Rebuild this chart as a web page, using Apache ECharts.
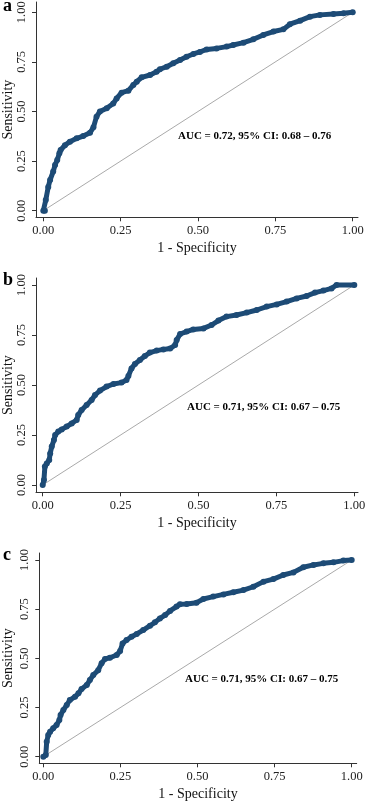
<!DOCTYPE html>
<html>
<head>
<meta charset="utf-8">
<script src="https://cdn.jsdelivr.net/npm/echarts@6/dist/echarts.min.js"></script>
<style>
html,body{margin:0;padding:0;background:#fff;}
#chart{width:365px;height:802px;}
</style>
</head>
<body>
<div id="chart"></div>
<script>
// Tick values shared by all panels
var tickValues = [0, 0.25, 0.5, 0.75, 1];
var panelLetters = ['a', 'b', 'c'];
var aucLabels = [
  'AUC = 0.72, 95% CI: 0.68 \u2013 0.76',
  'AUC = 0.71, 95% CI: 0.67 \u2013 0.75',
  'AUC = 0.71, 95% CI: 0.67 \u2013 0.75'
];

// Panel a ROC curve (1 - specificity, sensitivity)
var rocA_x = [0.000,0.005,0.008,0.016,0.022,0.032,0.038,0.045,0.052,0.056,0.070,0.086,0.108,0.129,0.151,0.162,0.172,0.183,0.205,0.226,0.237,0.253,0.275,0.291,0.302,0.318,0.345,0.366,0.377,0.399,0.420,0.442,0.463,0.485,0.506,0.528,0.560,0.593,0.614,0.647,0.679,0.711,0.744,0.776,0.797,0.830,0.862,0.894,0.938,0.970,1.000];
var rocA_y = [0.000,0.000,0.054,0.120,0.155,0.197,0.230,0.255,0.290,0.306,0.330,0.348,0.365,0.376,0.393,0.420,0.474,0.500,0.516,0.540,0.566,0.595,0.605,0.634,0.650,0.672,0.684,0.700,0.713,0.726,0.743,0.760,0.776,0.790,0.800,0.813,0.818,0.827,0.835,0.847,0.864,0.886,0.903,0.914,0.940,0.958,0.978,0.987,0.992,0.995,1.000];

// Panel b ROC curve
var rocB_x = [0.000,0.004,0.007,0.013,0.021,0.024,0.029,0.036,0.040,0.050,0.061,0.077,0.093,0.109,0.114,0.125,0.141,0.157,0.168,0.184,0.205,0.227,0.253,0.269,0.275,0.285,0.296,0.312,0.328,0.344,0.366,0.387,0.409,0.425,0.430,0.441,0.462,0.483,0.516,0.542,0.564,0.590,0.622,0.655,0.687,0.719,0.751,0.783,0.815,0.847,0.874,0.901,0.927,0.943,1.000];
var rocB_y = [0.000,0.025,0.092,0.108,0.125,0.158,0.192,0.225,0.250,0.267,0.278,0.292,0.308,0.325,0.350,0.375,0.400,0.425,0.450,0.472,0.492,0.505,0.512,0.525,0.545,0.583,0.605,0.625,0.645,0.662,0.672,0.678,0.682,0.700,0.725,0.755,0.767,0.778,0.783,0.800,0.822,0.842,0.850,0.862,0.875,0.892,0.903,0.917,0.933,0.945,0.962,0.972,0.983,1.000,1.000];

// Panel c ROC curve
var rocC_x = [0.000,0.008,0.011,0.016,0.022,0.032,0.043,0.052,0.056,0.065,0.076,0.086,0.103,0.114,0.124,0.141,0.151,0.162,0.178,0.189,0.200,0.216,0.238,0.249,0.257,0.270,0.286,0.303,0.324,0.346,0.362,0.378,0.395,0.411,0.432,0.443,0.465,0.497,0.519,0.551,0.584,0.616,0.649,0.681,0.714,0.746,0.778,0.811,0.843,0.876,0.908,0.941,0.973,1.000];
var rocC_y = [0.000,0.008,0.076,0.110,0.127,0.144,0.161,0.186,0.212,0.237,0.263,0.288,0.305,0.322,0.344,0.364,0.390,0.415,0.440,0.475,0.497,0.503,0.517,0.537,0.576,0.593,0.610,0.624,0.644,0.666,0.683,0.703,0.720,0.741,0.763,0.775,0.776,0.783,0.802,0.814,0.825,0.836,0.847,0.864,0.890,0.903,0.924,0.937,0.963,0.975,0.983,0.988,0.997,1.000];

// Reference (chance) line
var chance_x = [0, 1];
var chance_y = [0, 1];

function pairs(xs, ys){ return xs.map(function(x,i){ return [x, ys[i]]; }); }

var curves = [pairs(rocA_x, rocA_y), pairs(rocB_x, rocB_y), pairs(rocC_x, rocC_y)];

// layout (pixels) and axis extents for each panel
var layout = [
  {left:36, right:7, top:2, height:215.3, xmin:-0.0236, xmax:1.0171, ymin:-0.0333, ymax:1.0519, letterTop:-3, aucLeft:178, aucTop:131},
  {left:36, right:7, top:278, height:214.3, xmin:-0.0215, xmax:1.0119, ymin:-0.0365, ymax:1.035, letterTop:271, aucLeft:187, aucTop:402},
  {left:39.3, right:8.3, top:553, height:210.3, xmin:-0.013, xmax:1.0162, ymin:-0.0336, ymax:1.0356, letterTop:546, aucLeft:185, aucTop:674}
];

var FONT = '"Liberation Serif", "Times New Roman", serif';
var AXC = '#333';
var curveColor = '#1d4b76';

var grids = [], xAxes = [], yAxes = [], series = [], graphics = [];
layout.forEach(function(L, i){
  grids.push({left:L.left, right:L.right, top:L.top, height:L.height, containLabel:false, outerBoundsMode:'none'});
  xAxes.push({
    type:'value', gridIndex:i, min:L.xmin, max:L.xmax,
    name:'1 - Specificity', nameLocation:'middle', nameGap:24, nameMoveOverlap:false,
    nameTextStyle:{fontFamily:FONT, fontSize:14, color:'#111'},
    axisLine:{show:true, onZero:false, lineStyle:{color:AXC, width:1}},
    axisTick:{show:true, length:4, customValues:tickValues, lineStyle:{color:AXC}},
    axisLabel:{show:true, customValues:tickValues, margin:7, fontFamily:FONT, fontSize:12.5, color:'#222',
      formatter:function(v){ return v.toFixed(2); }},
    splitLine:{show:false}
  });
  yAxes.push({
    type:'value', gridIndex:i, min:L.ymin, max:L.ymax,
    name:'Sensitivity', nameLocation:'middle', nameGap:L.left - 15, nameRotate:90, nameMoveOverlap:false,
    nameTextStyle:{fontFamily:FONT, fontSize:14, color:'#111'},
    axisLine:{show:true, onZero:false, lineStyle:{color:AXC, width:1}},
    axisTick:{show:true, length:4, customValues:tickValues, lineStyle:{color:AXC}},
    axisLabel:{show:true, customValues:tickValues, rotate:90, margin:8, fontFamily:FONT, fontSize:12.5, color:'#222',
      formatter:function(v){ return v.toFixed(2); }},
    splitLine:{show:false}
  });
  series.push({
    type:'line', xAxisIndex:i, yAxisIndex:i, data:pairs(chance_x, chance_y),
    symbol:'none', lineStyle:{color:'#aaa', width:1}, silent:true, z:1
  });
  series.push({
    type:'line', xAxisIndex:i, yAxisIndex:i, data:curves[i],
    symbol:'circle', symbolSize:6, showAllSymbol:true,
    itemStyle:{color:curveColor}, lineStyle:{color:curveColor, width:5},
    silent:true, z:3
  });
  graphics.push({type:'text', left:3, top:L.letterTop,
    style:{text:panelLetters[i], font:'bold 18px ' + FONT, fill:'#000'}});
  graphics.push({type:'text', left:L.aucLeft, top:L.aucTop,
    style:{text:aucLabels[i], font:'bold 11px ' + FONT, fill:'#000'}});
});

var chart = echarts.init(document.getElementById('chart'), null, {renderer:'canvas'});
chart.setOption({
  animation:false,
  backgroundColor:'#fff',
  grid:grids, xAxis:xAxes, yAxis:yAxes, series:series, graphic:graphics
});
</script>
</body>
</html>
